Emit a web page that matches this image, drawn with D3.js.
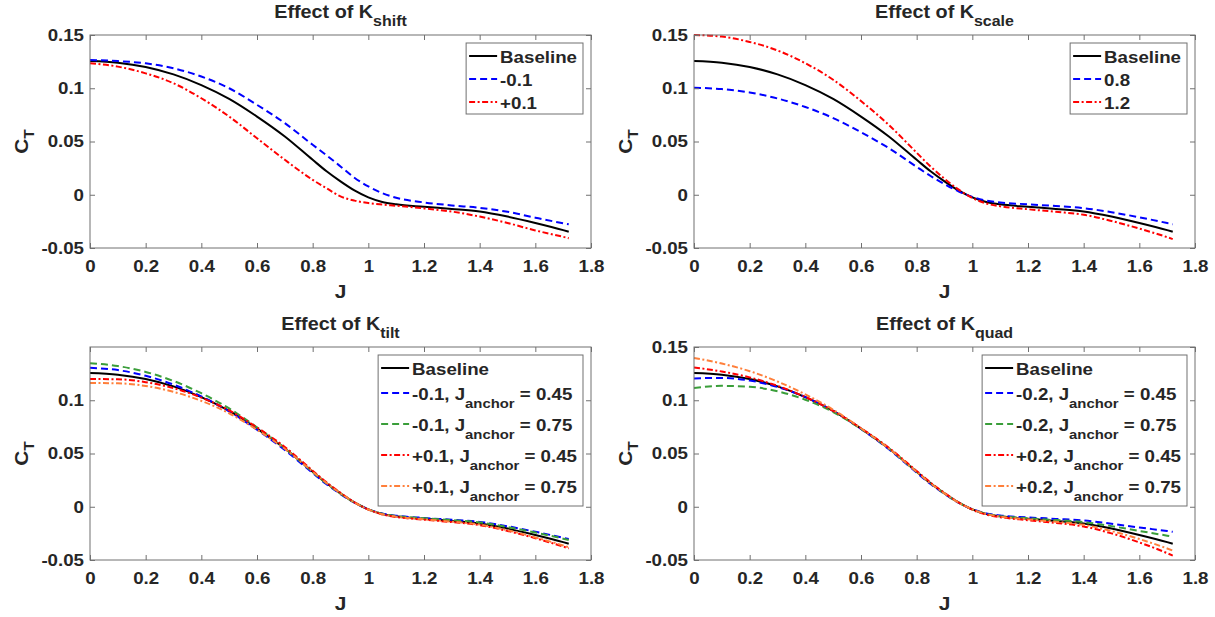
<!DOCTYPE html>
<html>
<head>
	<meta charset="UTF-8">
	<title>CT effects</title>
	<script src="https://cdn.jsdelivr.net/npm/d3@7"></script>
	<style>
		body { margin: 0; background: #fff; }
		svg text { font-family: "Liberation Sans", Arial, sans-serif; font-weight: bold; fill: #262626; }
	</style>
</head>
<body>
<script type="text/javascript">
// advance ratio grid shared by every curve
var J = [0, 0.1, 0.2, 0.3, 0.4, 0.5, 0.6, 0.7, 0.8, 0.85, 0.9, 0.95, 1.0, 1.05, 1.1, 1.2, 1.3, 1.4, 1.5, 1.6, 1.7, 1.72];

var baseline = [0.1256, 0.1240, 0.1200, 0.1130, 0.1030, 0.0900, 0.0734, 0.0547, 0.0328, 0.0220, 0.0125, 0.0040, -0.0025, -0.0068, -0.0090, -0.0113, -0.0133, -0.0157, -0.0205, -0.0265, -0.0332, -0.0347];

// K_shift
var shiftMinus = [0.1266, 0.1255, 0.1234, 0.1188, 0.1110, 0.1000, 0.0844, 0.0672, 0.0469, 0.0370, 0.0266, 0.0160, 0.0078, 0.0015, -0.0028, -0.0072, -0.0100, -0.0123, -0.0160, -0.0215, -0.0268, -0.0278];
var shiftPlus = [0.1234, 0.1203, 0.1140, 0.1047, 0.0906, 0.0734, 0.0531, 0.0328, 0.0140, 0.0060, -0.0015, -0.0055, -0.0078, -0.0092, -0.0103, -0.0128, -0.0158, -0.0205, -0.0265, -0.0335, -0.0395, -0.0408];

// K_scale
var scale08 = [0.1005, 0.0992, 0.0960, 0.0904, 0.0824, 0.0720, 0.0587, 0.0438, 0.0262, 0.0176, 0.0100, 0.0032, -0.0020, -0.0054, -0.0072, -0.0090, -0.0106, -0.0126, -0.0164, -0.0212, -0.0266, -0.0278];
var scale12 = [0.1500, 0.1485, 0.1435, 0.1355, 0.1235, 0.1080, 0.0880, 0.0655, 0.0395, 0.0265, 0.0150, 0.0050, -0.0030, -0.0082, -0.0108, -0.0136, -0.0160, -0.0188, -0.0246, -0.0318, -0.0398, -0.0416];

// K_tilt
var tiltM045 = [0.1305, 0.1283, 0.1230, 0.1147, 0.1035, 0.0896, 0.0723, 0.0533, 0.0317, 0.0211, 0.0119, 0.0038, -0.0024, -0.0064, -0.0084, -0.0105, -0.0122, -0.0142, -0.0183, -0.0235, -0.0291, -0.0303];
var tiltM075 = [0.1348, 0.1321, 0.1266, 0.1181, 0.1066, 0.0923, 0.0745, 0.0550, 0.0326, 0.0218, 0.0123, 0.0039, -0.0024, -0.0066, -0.0087, -0.0108, -0.0126, -0.0147, -0.0190, -0.0242, -0.0300, -0.0313];
var tiltP045 = [0.1199, 0.1197, 0.1170, 0.1113, 0.1025, 0.0905, 0.0745, 0.0561, 0.0339, 0.0229, 0.0131, 0.0042, -0.0026, -0.0072, -0.0096, -0.0121, -0.0144, -0.0172, -0.0227, -0.0295, -0.0374, -0.0391];
var tiltP075 = [0.1162, 0.1159, 0.1134, 0.1079, 0.0994, 0.0878, 0.0723, 0.0544, 0.0330, 0.0222, 0.0127, 0.0041, -0.0026, -0.0070, -0.0093, -0.0118, -0.0140, -0.0167, -0.0220, -0.0288, -0.0364, -0.0381];

// K_quad
var quadM045 = [0.1205, 0.1210, 0.1185, 0.1125, 0.1030, 0.0900, 0.0731, 0.0540, 0.0320, 0.0213, 0.0120, 0.0038, -0.0023, -0.0063, -0.0082, -0.0100, -0.0114, -0.0129, -0.0160, -0.0195, -0.0228, -0.0235];
var quadM075 = [0.1115, 0.1135, 0.1127, 0.1084, 0.1005, 0.0889, 0.0731, 0.0547, 0.0328, 0.0220, 0.0124, 0.0040, -0.0025, -0.0067, -0.0088, -0.0108, -0.0125, -0.0144, -0.0182, -0.0227, -0.0272, -0.0282];
var quadP045 = [0.1307, 0.1270, 0.1215, 0.1135, 0.1031, 0.0900, 0.0737, 0.0554, 0.0336, 0.0227, 0.0130, 0.0042, -0.0027, -0.0073, -0.0098, -0.0126, -0.0152, -0.0185, -0.0250, -0.0335, -0.0436, -0.0459];
var quadP075 = [0.1397, 0.1345, 0.1273, 0.1176, 0.1055, 0.0911, 0.0737, 0.0547, 0.0328, 0.0220, 0.0126, 0.0040, -0.0025, -0.0069, -0.0092, -0.0118, -0.0141, -0.0170, -0.0228, -0.0303, -0.0392, -0.0412];

var xTicks = [0, 0.2, 0.4, 0.6, 0.8, 1, 1.2, 1.4, 1.6, 1.8];
var yTicks = [-0.05, 0, 0.05, 0.1, 0.15];
var yTicksTilt = [-0.05, 0, 0.05, 0.1];

var shiftLabels = ["Baseline", "-0.1", "+0.1"];
var scaleLabels = ["Baseline", "0.8", "1.2"];
var tiltLabels = ["Baseline", "-0.1, J_{anchor} = 0.45", "-0.1, J_{anchor} = 0.75", "+0.1, J_{anchor} = 0.45", "+0.1, J_{anchor} = 0.75"];
var quadLabels = ["Baseline", "-0.2, J_{anchor} = 0.45", "-0.2, J_{anchor} = 0.75", "+0.2, J_{anchor} = 0.45", "+0.2, J_{anchor} = 0.75"];

// line styles
var BLACK = {color: "#000000", dash: null};
var BLUE = {color: "#0000ff", dash: "7,4"};
var GREEN = {color: "#3a9e3a", dash: "7,4"};
var RED = {color: "#ff0000", dash: "6,2.5,2,2.5"};
var ORANGE = {color: "#ff7f3a", dash: "6,2.5,2,2.5"};

var panels = [
	{left: 90, top: 35, sub: "shift", yt: yTicks, labels: shiftLabels, data: [baseline, shiftMinus, shiftPlus], styles: [BLACK, BLUE, RED]},
	{left: 694, top: 35, sub: "scale", yt: yTicks, labels: scaleLabels, data: [baseline, scale08, scale12], styles: [BLACK, BLUE, RED]},
	{left: 90, top: 347, sub: "tilt", yt: yTicksTilt, labels: tiltLabels, data: [baseline, tiltM045, tiltM075, tiltP045, tiltP075], styles: [BLACK, BLUE, GREEN, RED, ORANGE]},
	{left: 694, top: 347, sub: "quad", yt: yTicks, labels: quadLabels, data: [baseline, quadM045, quadM075, quadP045, quadP075], styles: [BLACK, BLUE, GREEN, RED, ORANGE]}
];

var W = 501, H = 213;
var SX = 1.1;   // the figure text is a little wider than Arial

var svg = d3.select("body").append("svg")
	.attr("width", 1215)
	.attr("height", 617);

// write "a_{b}c" as tspans with a lowered subscript
function texText(sel, str, size, subSize, drop) {
	var parts = str.split(/_\{([^}]*)\}/);
	var shifted = false;
	parts.forEach(function(p, i) {
		if (p === "") return;
		var t = sel.append("tspan").text(p);
		if (i % 2 === 1) {
			t.attr("font-size", subSize).attr("dy", drop);
			shifted = true;
		} else {
			t.attr("font-size", size);
			if (shifted) { t.attr("dy", -drop); shifted = false; }
		}
	});
}

// widen text around its own anchor point
function stretch(sel) {
	sel.each(function() {
		var t = d3.select(this);
		var x = +t.attr("x") || 0, y = +t.attr("y") || 0;
		t.attr("transform", "translate(" + x + "," + y + ") scale(" + SX + ",1) translate(" + (-x) + "," + (-y) + ")");
	});
}

panels.forEach(function(p) {
	var g = svg.append("g").attr("transform", "translate(" + p.left + "," + p.top + ")");
	var x = d3.scaleLinear().domain([0, 1.8]).range([0, W]);
	var y = d3.scaleLinear().domain([-0.05, 0.15]).range([H, 0]);

	g.append("rect").attr("width", W).attr("height", H).attr("fill", "#fff");

	// curves
	var line = d3.line()
		.x(function(d) { return x(d[0]); })
		.y(function(d) { return y(d[1]); })
		.curve(d3.curveMonotoneX);
	p.data.forEach(function(arr, k) {
		g.append("path")
			.datum(J.map(function(j, i) { return [j, arr[i]]; }))
			.attr("d", line)
			.attr("fill", "none")
			.attr("stroke", p.styles[k].color)
			.attr("stroke-width", 2)
			.attr("stroke-dasharray", p.styles[k].dash);
	});

	// axes with inward ticks on all four sides
	var fmt = function(d) { return String(d); };
	var xb = g.append("g").attr("transform", "translate(0," + H + ")")
		.call(d3.axisBottom(x).tickValues(xTicks).tickSizeInner(-5).tickSizeOuter(0).tickPadding(12).tickFormat(fmt));
	var xt = g.append("g")
		.call(d3.axisTop(x).tickValues(xTicks).tickSizeInner(-5).tickSizeOuter(0).tickFormat(""));
	var yl = g.append("g")
		.call(d3.axisLeft(y).tickValues(p.yt).tickSizeInner(-5).tickSizeOuter(0).tickPadding(6).tickFormat(fmt));
	var yr = g.append("g").attr("transform", "translate(" + W + ",0)")
		.call(d3.axisRight(y).tickValues(p.yt).tickSizeInner(-5).tickSizeOuter(0).tickFormat(""));
	[xb, xt, yl, yr].forEach(function(a) {
		a.select(".domain").remove();
		a.selectAll(".tick line").attr("stroke", "#707070");
		a.selectAll("text").attr("font-size", 17).attr("fill", "#262626").attr("font-family", null);
	});
	stretch(xb.selectAll(".tick text"));
	stretch(yl.selectAll(".tick text"));
	g.append("rect").attr("width", W).attr("height", H)
		.attr("fill", "none").attr("stroke", "#707070").attr("stroke-width", 1);

	// title
	var title = g.append("text").attr("x", W / 2).attr("y", -17).attr("text-anchor", "middle");
	texText(title, "Effect of K_{" + p.sub + "}", 18, 14.5, 8);
	stretch(title);

	// axis labels
	var jl = g.append("text").attr("x", W / 2).attr("y", H + 50).attr("text-anchor", "middle")
		.attr("font-size", 19).text("J");
	stretch(jl);
	var yl2 = g.append("text").attr("text-anchor", "middle")
		.attr("transform", "translate(-62," + (H / 2) + ") rotate(-90) scale(" + SX + ",1)");
	texText(yl2, "C_{T}", 19, 14, 6);

	// legend
	var hasSub = p.labels.map(function(s) { return s.indexOf("_{") >= 0; });
	var leg = g.append("g");
	var box = leg.append("rect").attr("fill", "#fff").attr("stroke", "#707070").attr("stroke-width", 1);
	var cy = 14, rows = [];
	p.labels.forEach(function(s, i) {
		if (i > 0) cy += 23 + (hasSub[i] ? 2 : 0) + (hasSub[i - 1] ? 6 : 0);
		rows.push(cy);
	});
	var texts = [];
	p.labels.forEach(function(s, i) {
		leg.append("line")
			.attr("x1", 3).attr("x2", 31)
			.attr("y1", rows[i] - 1).attr("y2", rows[i] - 1)
			.attr("stroke", p.styles[i].color).attr("stroke-width", 2)
			.attr("stroke-dasharray", p.styles[i].dash);
		var t = leg.append("text").attr("x", 34).attr("y", rows[i] + 6);
		texText(t, s, 17, 13.5, 8);
		stretch(t);
		texts.push(t);
	});
	var tw = d3.max(texts, function(t) { return t.node().getComputedTextLength(); }) * SX;
	var bw = 34 + tw + 6;
	var bh = rows[rows.length - 1] + 11 + (hasSub[hasSub.length - 1] ? 8 : 0);
	box.attr("width", bw).attr("height", bh);
	leg.attr("transform", "translate(" + (W - 8 - bw) + ",8)");
});
</script>
</body>
</html>
